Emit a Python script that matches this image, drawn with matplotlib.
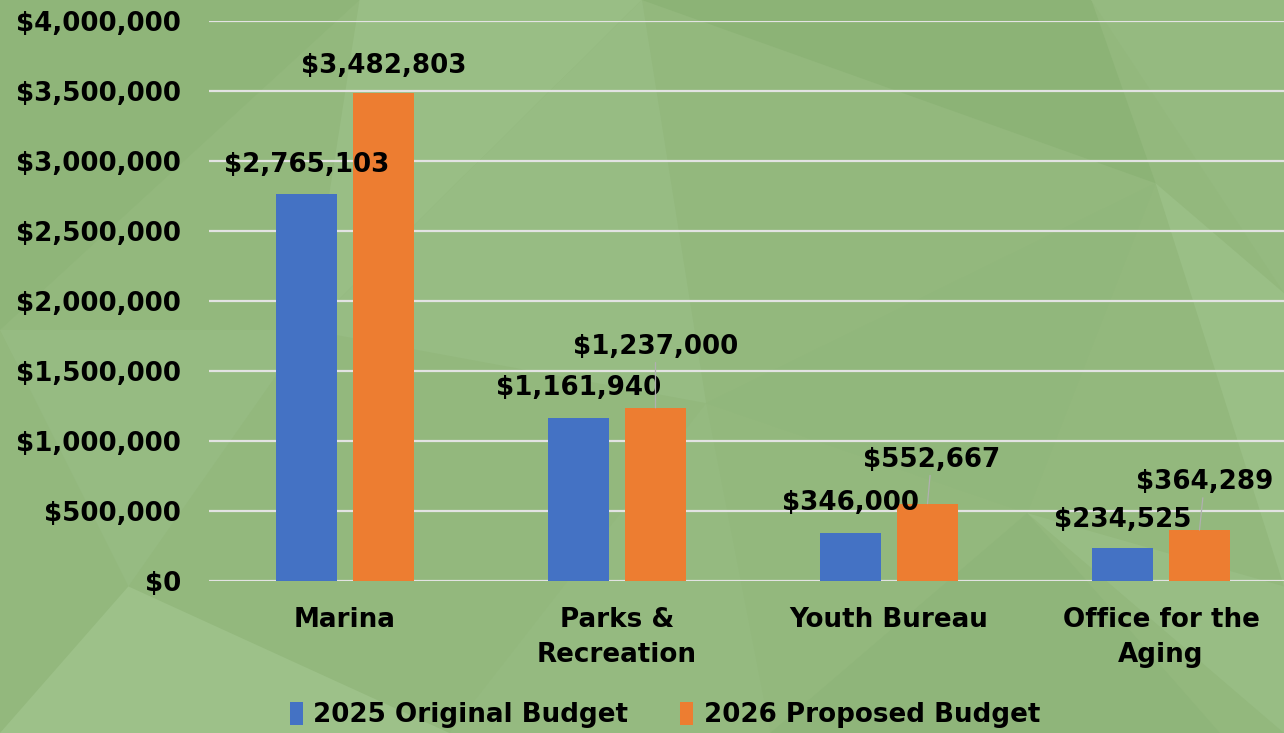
import numpy as np
import matplotlib
matplotlib.use("Agg")
import matplotlib.pyplot as plt
from matplotlib.patches import Polygon, Patch

# data
categories = ["Marina", "Parks &\nRecreation", "Youth Bureau", "Office for the\nAging"]
budget_2025 = [2765103, 1161940, 346000, 234525]
budget_2026 = [3482803, 1237000, 552667, 364289]
series_names = ["2025 Original Budget", "2026 Proposed Budget"]
yticks = [0, 500000, 1000000, 1500000, 2000000, 2500000, 3000000, 3500000, 4000000]

# label offsets above bar tops (in pixels), layout only
off_2025 = [29, 30, 30, 28]
off_2026 = [27, 61, 44, 48]
dx_2026 = [0, 0, 4, 5]

blue = "#4472C4"
orange = "#ED7D31"
fs = 18.8

plt.rcParams['font.family'] = ['DejaVu Sans']
plt.rcParams['font.weight'] = 'bold'

fig = plt.figure(figsize=(12.84, 7.33), dpi=100)
fig.patch.set_facecolor("#93b87d")

# polygon texture in the background (subtle)
tri = [
    ([(0, 1), (0.28, 1), (0.0, 0.55)], "#8fb579"),
    ([(0.28, 1), (0.5, 1), (0.24, 0.55)], "#99be85"),
    ([(0.5, 1), (0.85, 1), (0.9, 0.75)], "#8cb376"),
    ([(0.85, 1), (1, 1), (1, 0.6)], "#95ba80"),
    ([(0.0, 0.55), (0.24, 0.55), (0.1, 0.2)], "#96bb82"),
    ([(0.24, 0.55), (0.5, 1), (0.55, 0.45)], "#97bc83"),
    ([(0.55, 0.45), (0.9, 0.75), (0.8, 0.3)], "#91b77c"),
    ([(0.9, 0.75), (1, 0.6), (1, 0.2)], "#9abf86"),
    ([(0.0, 0.0), (0.1, 0.2), (0.35, 0.0)], "#9dc189"),
    ([(0.35, 0.0), (0.55, 0.45), (0.6, 0.0)], "#95ba80"),
    ([(0.6, 0.0), (0.8, 0.3), (0.95, 0.0)], "#8fb57a"),
    ([(0.8, 0.3), (1, 0.2), (1, 0.0)], "#98bd84"),
]
for pts, c in tri:
    fig.patches.append(Polygon(pts, closed=True, transform=fig.transFigure,
                               facecolor=c, edgecolor="none", zorder=-10))

W, H = 1284, 733
ax = fig.add_axes([209 / W, (H - 581) / H, (W - 209) / W, 560 / H])
ax.set_facecolor("none")

x = np.arange(len(categories))
bw = 0.224
shift = 0.1415
b1 = ax.bar(x - shift, budget_2025, bw, color=blue, zorder=3)
b2 = ax.bar(x + shift, budget_2026, bw, color=orange, zorder=3)

ax.set_ylim(0, 4000000)
ax.set_xlim(-0.5, (W - 209) / 272 - 0.5)
ax.set_yticks(yticks)
ax.set_yticklabels(["${:,.0f}".format(v) for v in yticks], fontsize=fs, fontweight="bold")
ax.set_xticks(x)
ax.set_xticklabels(categories, fontsize=fs, fontweight="bold", linespacing=1.45)
ax.tick_params(axis="y", length=0, pad=20)
ax.tick_params(axis="x", length=0, pad=19)
ax.grid(axis="y", color="#e3e3e3", lw=1.6, zorder=1)
for s in ax.spines.values():
    s.set_visible(False)

px = 0.72
for i in range(len(categories)):
    ax.annotate("${:,.0f}".format(budget_2025[i]), (x[i] - shift, budget_2025[i]),
                xytext=(0, off_2025[i] * px), textcoords="offset points",
                ha="center", va="center", fontsize=fs, fontweight="bold", zorder=5)
    ap = None
    if off_2026[i] > 40:
        ap = dict(arrowstyle="-", color="#b0b0b0", lw=0.9, shrinkA=0, shrinkB=0)
    ax.annotate("${:,.0f}".format(budget_2026[i]), (x[i] + shift, budget_2026[i]),
                xytext=(dx_2026[i] * px, off_2026[i] * px), textcoords="offset points",
                ha="center", va="center", fontsize=fs, fontweight="bold", zorder=5,
                arrowprops=ap)

handles = [Patch(facecolor=blue), Patch(facecolor=orange)]
fig.legend(handles, series_names, loc="center", bbox_to_anchor=(665 / W, 1 - 715 / H),
           ncol=2, frameon=False, handlelength=0.5, handleheight=1.0,
           handletextpad=0.4, columnspacing=2.0, prop={"weight": "bold", "size": fs})

fig.savefig("out.png", dpi=100, facecolor=fig.get_facecolor())
